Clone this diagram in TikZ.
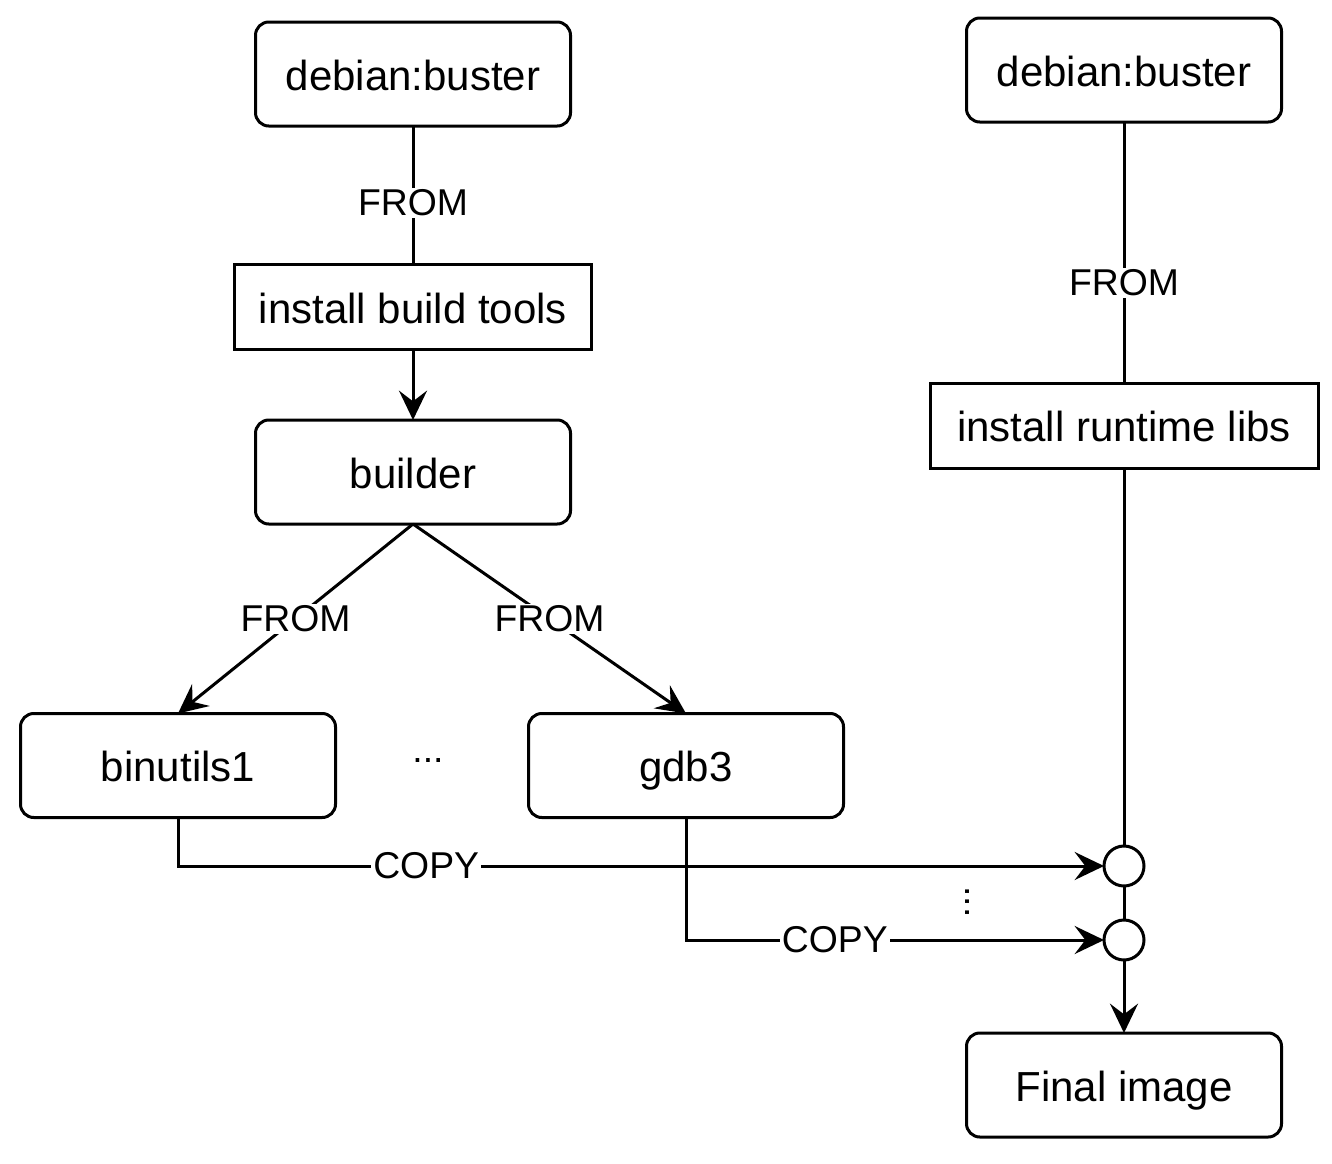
\documentclass[tikz,border=0pt]{standalone}
\usepackage{fontspec}
\setmainfont{Liberation Sans}
\usetikzlibrary{arrows.meta}
\begin{document}
\begin{tikzpicture}[x=0.75pt,y=-0.75pt,
  line width=2.25pt,
  box/.style={draw,fill=white,outer sep=0pt,inner sep=0pt,align=center,
    text height=24pt,text depth=0pt,
    font=\fontsize{31.5}{36}\selectfont,minimum width=236.25pt,minimum height=78pt},
  rbox/.style={box,rounded corners=10pt},
  lbl/.style={fill=white,inner sep=1.5pt,font=\fontsize{28}{32}\selectfont},
  junc/.style={draw,fill=white,circle,inner sep=0pt,minimum size=30pt,outer sep=0pt,text height=0pt,text depth=0pt},
  arr/.style={-{Stealth[length=22pt,width=21pt,inset=8pt]}}]
\useasboundingbox (0,0) rectangle (1332,1164);
% left column
\node[rbox] (top1) at (413,74) {debian:buster};
\node[box,minimum width=267.75pt,minimum height=63.75pt] (ibt) at (413,307) {install build tools};
\node[rbox] (builder) at (413,472) {builder};
\node[rbox] (bin) at (178,765.5) {binutils1};
\node[rbox] (gdb) at (686,765.5) {gdb3};
\node[font=\fontsize{28}{32}\selectfont] (dots) at (428,760) {...};
% right column
\node[rbox] (top2) at (1124,70) {debian:buster};
\node[box,minimum width=291pt,minimum height=63.75pt] (irl) at (1124,425.5) {install runtime libs};
\node[junc] (c1) at (1124,866) {};
\node[junc] (c2) at (1124,940) {};
\node[font=\fontsize{28}{32}\selectfont,rotate=-90] (vdots) at (967,902) {...};
\node[rbox] (final) at (1124,1085) {Final image};
% connectors
\draw (top1) -- node[lbl,pos=0.554] {FROM} (ibt);
\draw[arr] (ibt) -- (builder);
\draw[arr] (builder.south) -- node[lbl] {FROM} (bin.north);
\draw[arr] (builder.south) -- node[lbl] {FROM} (gdb.north);
\draw (top2) -- node[lbl,pos=0.617] {FROM} (irl);
\draw (irl) -- (c1);
\draw (c1) -- (c2);
\draw[arr] (c2) -- (final);
\draw[arr] (bin.south) |- node[lbl,pos=0.634] {COPY} (c1.west);
\draw[arr] (gdb.south) |- node[lbl,pos=0.678] {COPY} (c2.west);
\end{tikzpicture}
\end{document}
